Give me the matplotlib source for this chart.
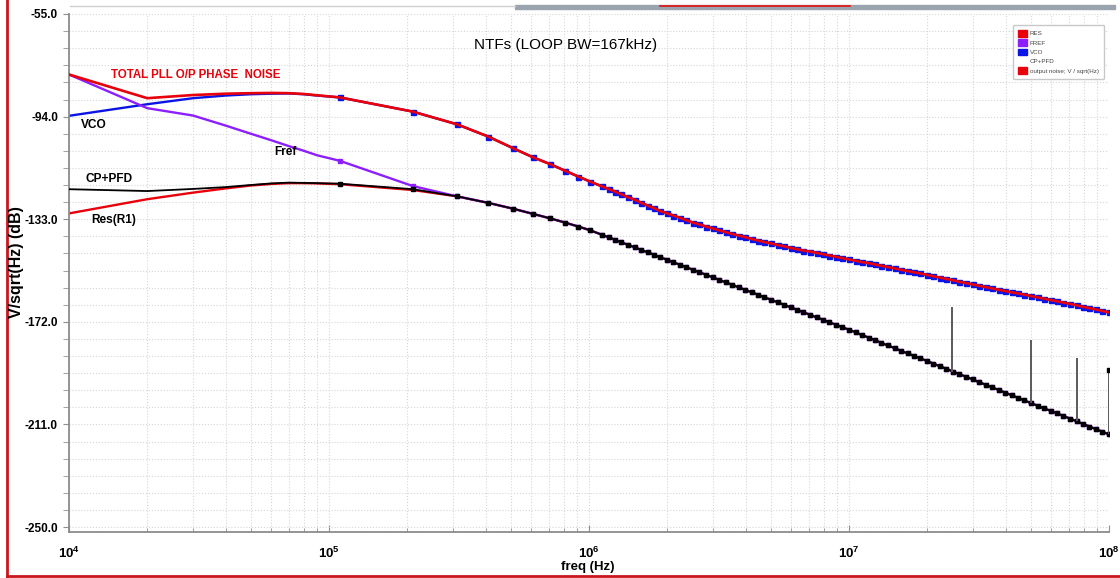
import math
import matplotlib
matplotlib.use('Agg')
import matplotlib.pyplot as plt
from matplotlib.lines import Line2D
from matplotlib.patches import Patch, Rectangle
from matplotlib.ticker import FixedLocator, FuncFormatter, LogLocator, NullFormatter

# ---- data ----
freq_low = [1e4, 2e4, 3e4, 4e4, 5e4, 6e4, 7e4, 8e4, 9e4,
            1.1e5, 2.1e5, 3.1e5, 4.1e5, 5.1e5, 6.1e5, 7.1e5, 8.1e5, 9.1e5, 1.01e6]
mant_6 = [1.12, 1.19, 1.26, 1.33, 1.41, 1.5, 1.58, 1.68, 1.78, 1.88,
          2.0, 2.11, 2.24, 2.37, 2.51, 2.66, 2.82, 2.99, 3.16, 3.35,
          3.55, 3.76, 3.98, 4.22, 4.47, 4.73, 5.01, 5.31, 5.62, 5.96,
          6.31, 6.68, 7.08, 7.5, 7.94, 8.41, 8.91, 9.44]
mant_7 = [1.0, 1.06] + mant_6
freq = freq_low + [m * 1e6 for m in mant_6] + [m * 1e7 for m in mant_7] + [1e8]

total_db = [-78.0, -87.0, -85.8, -85.3, -85.1, -85.0, -85.1, -85.4, -85.9,
            -86.7, -92.1, -96.9, -101.6, -106.0, -109.5, -112.1, -114.6, -116.8, -118.7,
            # 1 MHz .. 10 MHz
            -120.5, -121.5, -122.5, -123.5, -124.6, -125.6, -126.7, -127.8, -128.8, -129.9,
            -130.8, -131.6, -132.5, -133.4, -134.3, -135.0, -135.8, -136.5, -137.2, -137.9,
            -138.6, -139.2, -139.8, -140.5, -141.1, -141.7, -142.2, -142.8, -143.3, -143.9,
            -144.4, -144.9, -145.3, -145.8, -146.3, -146.8, -147.3, -147.8,
            # 10 MHz .. 100 MHz
            -148.3, -148.8, -149.3, -149.7, -150.2, -150.7, -151.2, -151.7, -152.2, -152.7,
            -153.2, -153.6, -154.2, -154.7, -155.2, -155.7, -156.2, -156.8, -157.3, -157.8,
            -158.3, -158.8, -159.3, -159.8, -160.3, -160.8, -161.2, -161.7, -162.2, -162.7,
            -163.2, -163.7, -164.2, -164.7, -165.2, -165.7, -166.3, -166.8, -167.3, -167.9,
            -168.4]

# VCO sits on the total curve above ~100 kHz
vco_db = [-93.7, -89.3, -87.0, -86.0, -85.5, -85.3, -85.2, -85.5, -86.0] + total_db[9:]

cp_pfd_db = [-121.6, -122.3, -121.5, -120.8, -120.0, -119.4, -119.1, -119.2, -119.3,
             -119.5, -121.6, -124.3, -126.8, -129.0, -131.0, -132.7, -134.3, -135.8, -137.2,
             # 1 MHz .. 10 MHz
             -138.9, -139.9, -140.8, -141.8, -142.7, -143.7, -144.6, -145.6, -146.5, -147.5,
             -148.4, -149.4, -150.3, -151.3, -152.2, -153.2, -154.1, -155.1, -156.0, -157.0,
             -157.9, -158.9, -159.8, -160.8, -161.7, -162.7, -163.6, -164.6, -165.5, -166.5,
             -167.4, -168.4, -169.3, -170.3, -171.2, -172.2, -173.1, -174.1,
             # 10 MHz .. 100 MHz
             -175.0, -176.0, -177.0, -178.0, -179.0, -180.0, -181.0, -182.0, -183.0, -184.0,
             -185.0, -185.9, -186.9, -187.9, -188.9, -189.9, -190.9, -191.9, -192.9, -193.9,
             -194.9, -195.9, -196.9, -197.9, -198.9, -199.9, -200.9, -201.9, -202.9, -203.9,
             -204.9, -205.8, -206.8, -207.8, -208.8, -209.8, -210.8, -211.8, -212.8, -213.8,
             -214.8]

# Fref and Res(R1) merge into the CP+PFD curve above ~300 kHz
fref_db = [-78.0, -90.8, -93.6, -97.4, -100.5, -103.0, -105.2, -107.0, -108.7,
           -110.8, -120.4] + cp_pfd_db[11:]
res_db = [-130.8, -125.4, -122.9, -121.3, -120.2, -119.6, -119.3, -119.3, -119.4,
          -119.7, -121.9] + cp_pfd_db[11:]

spur_freq = [2.5e7, 5e7, 7.5e7, 1e8]
spur_top = [-166.4, -178.9, -185.6, -190.3]
spur_base = [-190.9, -202.9, -209.8, -214.8]

y_major = [-55.0, -94.0, -133.0, -172.0, -211.0, -250.0]

FONT = ['Liberation Sans', 'DejaVu Sans']
plt.rcParams['font.family'] = FONT
plt.rcParams['mathtext.fontset'] = 'custom'
plt.rcParams['mathtext.rm'] = 'Liberation Sans'
plt.rcParams['mathtext.bf'] = 'Liberation Sans:bold'

RED = '#e8000b'
BLUE = '#0a14e6'
PURPLE = '#8c1eff'

W, H = 1120, 578
fig = plt.figure(figsize=(W / 100, H / 100), dpi=100)
ax = fig.add_axes([69 / W, 1 - 532 / H, 1040 / W, 518 / H])

ax.set_xscale('log')
ax.set_xlim(1e4, 1e8)
ax.set_ylim(-251.9, -55)

marks = list(range(9, len(freq)))

# lower group
ax.plot(freq, res_db, color=RED, lw=1.7, zorder=2)
ax.plot(freq, fref_db, color=PURPLE, lw=1.7, marker='s', ms=3.4, mec=PURPLE,
        markevery=marks, zorder=3)
ax.plot(freq, cp_pfd_db, color='black', lw=1.3, marker='s', ms=3.0,
        markevery=marks, zorder=4)
ax.vlines(spur_freq, spur_base, spur_top, color='#5a5a5a', lw=1.4, zorder=4)
ax.plot(spur_freq[-1], spur_top[-1], 's', color='black', ms=2.5, zorder=5)

# upper group
ax.plot(freq, vco_db, color=BLUE, lw=1.7, marker='s', ms=3.6,
        markevery=marks, zorder=2)
ax.plot(freq, total_db, color=RED, lw=1.9, zorder=3)

# ticks / grid
ax.yaxis.set_major_locator(FixedLocator(y_major))
ax.yaxis.set_minor_locator(FixedLocator([-55 - 6.5 * i for i in range(31)]))
ax.yaxis.set_major_formatter(FuncFormatter(lambda v, p: '%.1f' % v))
ax.xaxis.set_major_locator(LogLocator(base=10, numticks=10))
ax.xaxis.set_minor_locator(LogLocator(base=10, subs=range(2, 10), numticks=20))
ax.xaxis.set_minor_formatter(NullFormatter())
ax.xaxis.set_major_formatter(
    FuncFormatter(lambda v, p: r'$\mathbf{10^{%d}}$' % round(math.log10(v))))

ax.tick_params(axis='y', which='both', direction='out', length=4, color='#909090',
               labelsize=8.5, pad=4)
ax.tick_params(axis='x', which='major', direction='in', length=5, color='#909090',
               labelsize=9.5, pad=10)
ax.tick_params(axis='x', which='minor', direction='in', length=3, color='#909090')
for lab in ax.get_yticklabels():
    lab.set_fontweight('bold')

ax.grid(which='both', color='#d6d6d6', linestyle=':', linewidth=0.8)
ax.set_axisbelow(True)
for s in ['top', 'right']:
    ax.spines[s].set_visible(False)
for s in ['left', 'bottom']:
    ax.spines[s].set_color('#8c8c8c')
    ax.spines[s].set_linewidth(1.3)

# annotations
ax.text(0.477, 0.94, 'NTFs (LOOP BW=167kHz)', transform=ax.transAxes,
        ha='center', va='center', fontsize=11)
ax.text(1.45e4, -78.2, 'TOTAL PLL O/P PHASE  NOISE', color=RED, fontsize=8.3,
        fontweight='bold', va='center')
ax.text(1.11e4, -97.2, 'VCO', fontsize=8.6, fontweight='bold', va='center')
ax.text(6.14e4, -107.5, 'Fref', fontsize=8.6, fontweight='bold', va='center')
ax.text(1.16e4, -117.7, 'CP+PFD', fontsize=8.6, fontweight='bold', va='center')
ax.text(1.22e4, -133.3, 'Res(R1)', fontsize=8.6, fontweight='bold', va='center')

fig.text(588 / W, 1 - 567 / H, 'freq (Hz)', ha='center', va='center',
         fontsize=9.5, fontweight='bold')
fig.text(17 / W, 1 - 262 / H, 'V/sqrt(Hz) (dB)', ha='center', va='center',
         rotation=90, fontsize=11.5, fontweight='bold')

# legend
handles = [Patch(color=RED), Patch(color=PURPLE), Patch(color=BLUE),
           Patch(color='none'), Patch(color=RED)]
labels = ['RES', 'FREF', 'VCO', 'CP+PFD', 'output noise; V / sqrt(Hz)']
leg = ax.legend(handles, labels, loc='upper right', bbox_to_anchor=(0.998, 0.985),
                fontsize=4.5, handlelength=1.4, handleheight=1.3, handletextpad=0.5,
                labelspacing=0.4, borderpad=0.8, fancybox=True, framealpha=1,
                edgecolor='#c8c8c8')
for t in leg.get_texts():
    t.set_color('#444444')

# window chrome around the plot
fig.add_artist(Line2D([7 / W, 7 / W], [0, 1], color='#c8161d', lw=2))
fig.add_artist(Line2D([7 / W, 1], [1 - 576 / H] * 2, color='#c8161d', lw=2))
fig.add_artist(Line2D([70 / W, 515 / W], [1 - 6 / H] * 2, color='#d0d0d0', lw=1))
fig.add_artist(Rectangle((515 / W, 1 - 9 / H), 600 / W, 4 / H, color='#9aa4ae'))
fig.add_artist(Line2D([660 / W, 850 / W], [1 - 6 / H] * 2, color='#e01010', lw=1.2))

fig.savefig('out.png', dpi=100)
